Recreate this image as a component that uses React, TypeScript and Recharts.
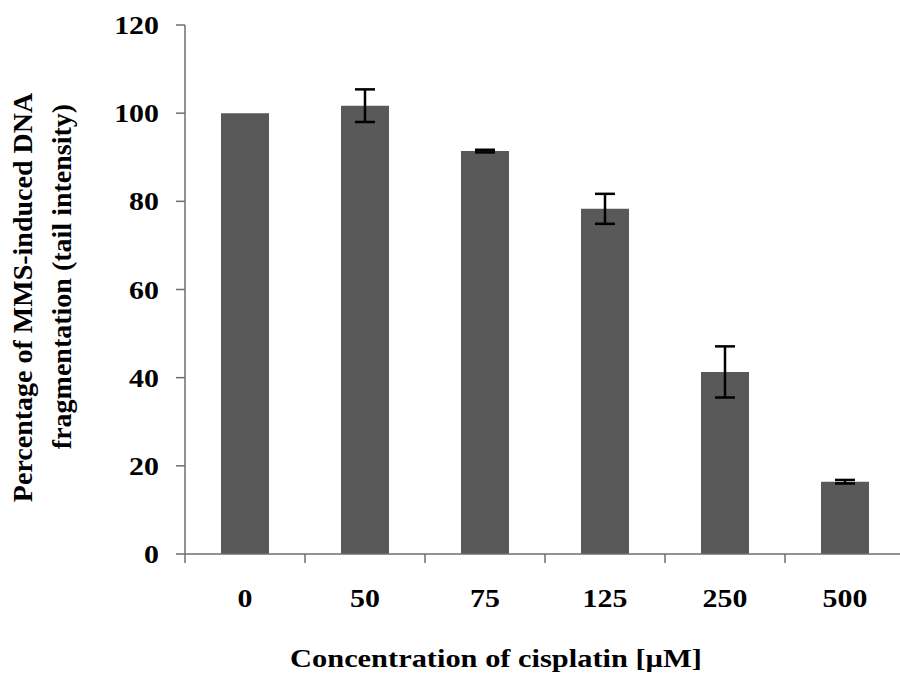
import React from "react";
import { BarChart, Bar, XAxis, YAxis, ErrorBar } from "recharts";

const concentrations = ["0", "50", "75", "125", "250", "500"];
const percentValues = [100, 101.7, 91.4, 78.3, 41.3, 16.4];
const errorValues = [0, 3.7, 0.3, 3.4, 5.8, 0.4];
const yTicks = [0, 20, 40, 60, 80, 100, 120];

const data = concentrations.map((c, i) => ({
  conc: c,
  value: percentValues[i],
  err: errorValues[i],
}));

const font = "'Liberation Serif', 'Times New Roman', serif";
const axisColor = "#6e6e6e";

// the source image is a bit stretched sideways, so text gets a scaleX
function XTick(props: any) {
  const { x, y, payload } = props;
  const half = payload.offset || 0;
  const axisY = y - 4;
  return (
    <g>
      <line x1={x - half} y1={axisY} x2={x - half} y2={axisY + 9} stroke={axisColor} strokeWidth={1.5} />
      <text
        transform={`translate(${x}, ${axisY + 53}) scale(1.15, 1)`}
        textAnchor="middle"
        fontFamily={font}
        fontWeight="bold"
        fontSize={26}
        fill="#000"
      >
        {payload.value}
      </text>
    </g>
  );
}

function YTick(props: any) {
  const { x, y, payload } = props;
  return (
    <text
      transform={`translate(${x}, ${y + 9}) scale(1.15, 1)`}
      textAnchor="end"
      fontFamily={font}
      fontWeight="bold"
      fontSize={26}
      fill="#000"
    >
      {payload.value}
    </text>
  );
}

function YLabel(props: any) {
  const vb = props.viewBox || { x: 0, y: 25, width: 185, height: 529 };
  const cy = vb.y + vb.height / 2;
  return (
    <g fontFamily={font} fontWeight="bold" fontSize={28} fill="#000">
      <text transform={`translate(32, ${cy + 8}) rotate(-90)`} textAnchor="middle">
        Percentage of MMS-induced DNA
      </text>
      <text transform={`translate(71, ${cy - 13}) rotate(-90)`} textAnchor="middle">
        fragmentation (tail intensity)
      </text>
    </g>
  );
}

function XLabel(props: any) {
  const vb = props.viewBox || { x: 185, y: 554, width: 720, height: 119 };
  return (
    <text
      transform={`translate(${vb.x + 311}, ${vb.y + 113}) scale(1.17, 1)`}
      textAnchor="middle"
      fontFamily={font}
      fontWeight="bold"
      fontSize={26}
      fill="#000"
    >
      Concentration of cisplatin [{"\u00b5"}M]
    </text>
  );
}

export default function App() {
  return (
    <div style={{ position: "absolute", left: 0, top: 0, width: 900, height: 673, overflow: "hidden", background: "#fff" }}>
      <BarChart
        width={920}
        height={673}
        data={data}
        margin={{ top: 25, right: 15, bottom: 0, left: 0 }}
        barCategoryGap="30%"
      >
        <XAxis
          dataKey="conc"
          height={119}
          axisLine={{ stroke: axisColor, strokeWidth: 1.5 }}
          tickLine={false}
          tick={<XTick />}
          tickSize={0}
          tickMargin={4}
          label={<XLabel />}
        />
        <YAxis
          width={185}
          domain={[0, 120]}
          ticks={yTicks}
          interval={0}
          axisLine={{ stroke: axisColor, strokeWidth: 1.5 }}
          tickLine={{ stroke: axisColor, strokeWidth: 1.5 }}
          tickSize={9}
          tickMargin={17}
          tick={<YTick />}
          label={<YLabel />}
        />
        <Bar dataKey="value" fill="#595959" isAnimationActive={false}>
          <ErrorBar dataKey="err" width={10} stroke="#000" strokeWidth={2.5} direction="y" />
        </Bar>
      </BarChart>
    </div>
  );
}
